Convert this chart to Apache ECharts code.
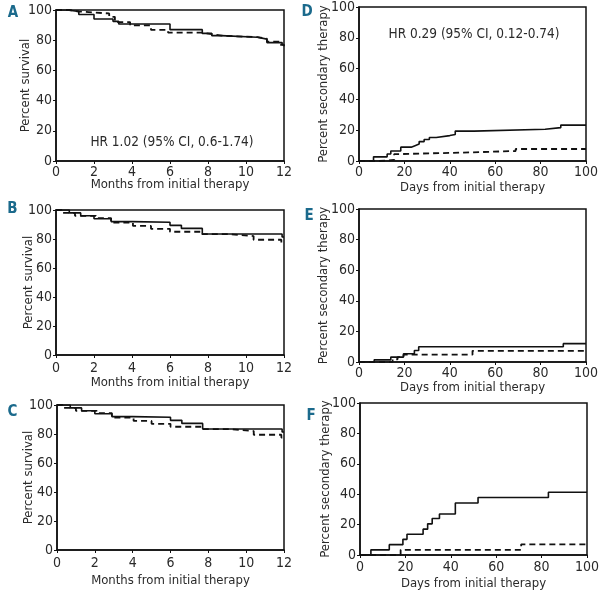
<!DOCTYPE html>
<html><head><meta charset="utf-8">
<script src="https://cdn.jsdelivr.net/npm/echarts@6/dist/echarts.min.js"></script>
<style>html,body{margin:0;padding:0;background:#fff}#c{width:600px;height:596px}</style>
</head><body><div id="c"></div>
<script>
// ---- data ----
const monthTicks = [0, 2, 4, 6, 8, 10, 12];
const dayTicks = [0, 20, 40, 60, 80, 100];
const pctTicks = [0, 20, 40, 60, 80, 100];

const A_solid = [[0,100],[0.6,99],[1.2,97],[2.0,94],[3.0,92.5],[3.3,90.7],[6.0,87],[7.7,84.5],[8.2,83],[8.7,82],[10.6,80.7],[11.1,78.4],[11.9,77],[12,77]];
const A_dashed = [[0,100],[0.7,99],[1.2,97.7],[2.8,95.5],[3.1,92],[3.9,89.8],[5.0,86.8],[5.9,85],[7.7,84],[8.2,83],[8.7,82],[10.6,81],[11.1,79],[11.8,77],[12,76]];

const B_solid = [[0,100],[0.7,98],[1.3,96],[2.0,94],[2.9,92],[4.0,91.5],[6.0,89.4],[6.6,87.3],[7.7,83.5],[11.9,81.4],[12,81.4]];
const B_dashed = [[0,100],[0.3,98],[1.0,96],[2.1,94.4],[2.9,91.3],[4.05,89],[5.0,87],[6.0,85],[7.7,83.3],[9.2,82],[10.4,79.5],[11.86,77.6],[12,77.6]];

const C_solid = [[0,100],[0.7,98],[1.3,96],[2.0,94],[2.9,92],[4.0,91.5],[6.0,89.4],[6.6,87.3],[7.7,83.5],[11.9,81.4],[12,81.4]];
const C_dashed = [[0,100],[0.3,98],[1.0,96],[2.1,94.4],[2.9,91.3],[4.05,89],[5.0,87],[6.0,85],[7.7,83.3],[9.2,82],[10.4,79.5],[11.86,77.6],[12,77.6]];

const D_solid = [[0,0],[6.4,2.7],[12.4,4.5],[14,6.5],[18.4,9],[23,9.8],[24.4,11],[26.5,12.6],[28.7,14],[31,15.3],[34,16.5],[40,17.2],[42.4,19.4],[50.7,20.6],[82,21.7],[88.9,23.3],[100,23.3]];
const D_dashed = [[0,0],[9,0.7],[15.5,4.5],[18,5.6],[49,6.5],[69,7.8],[100,7.8]];

const E_solid = [[0,0],[6.7,1.4],[14,3.2],[19.6,5.4],[24.4,7.5],[26.3,10],[90,12],[100,12]];
const E_dashed = [[0,0],[14.8,1.8],[17,3.2],[19.6,4.8],[50,7.3],[100,7.3]];

const F_solid = [[0,0],[4.8,3.4],[12.9,6.8],[18.9,10.3],[20.7,13.7],[27.8,17],[29.8,20.5],[31.8,24],[35,27],[42,34.2],[52,37.8],[83,41.3],[100,41.3]];
const F_dashed = [[0,0],[17.9,3.4],[71,7],[100,7]];

const letters = ['A','B','C','D','E','F'];
const survivalTitle = 'Percent survival';
const secondaryTitle = 'Percent secondary therapy';
const monthsTitle = 'Months from initial therapy';
const daysTitle = 'Days from initial therapy';
const hrA = 'HR 1.02 (95% CI, 0.6-1.74)';
const hrD = 'HR 0.29 (95% CI, 0.12-0.74)';

// ---- layout ----
const FONT = '"DejaVu Sans Condensed","Liberation Sans Narrow",sans-serif';
const TXT = '#2a2a2a';
const panels = [
  {grid:{left:56,top:10,width:228,height:151}, kind:'m', solid:A_solid, dashed:A_dashed, nameGap:17, yGap:24, lm:4},
  {grid:{left:56,top:210,width:228,height:145}, kind:'m', solid:B_solid, dashed:B_dashed, nameGap:21, yGap:21, lm:6},
  {grid:{left:57,top:405,width:227,height:145}, kind:'m', solid:C_solid, dashed:C_dashed, nameGap:24, yGap:22, lm:6},
  {grid:{left:359,top:7,width:227,height:154}, kind:'d', solid:D_solid, dashed:D_dashed, nameGap:20, yGap:29, lm:4},
  {grid:{left:359,top:209,width:227,height:153}, kind:'d', solid:E_solid, dashed:E_dashed, nameGap:19, yGap:29, lm:4},
  {grid:{left:360,top:403,width:227,height:152}, kind:'d', solid:F_solid, dashed:F_dashed, nameGap:22, yGap:28, lm:5}
];
const letterPos = [[13,13],[12.5,209],[12.5,412],[307,12],[309,216],[311,416]];

const grids=[], xAxes=[], yAxes=[], series=[];
panels.forEach((p,i)=>{
  grids.push(Object.assign({show:true,borderColor:'#111',borderWidth:1.5,backgroundColor:'transparent',
    containLabel:false,outerBoundsMode:'none'},p.grid));
  const isM = p.kind==='m';
  const xt = isM ? monthTicks : dayTicks;
  xAxes.push({gridIndex:i,type:'value',min:xt[0],max:xt[xt.length-1],interval:xt[1]-xt[0],
    name:isM?monthsTitle:daysTitle,nameLocation:'middle',nameGap:p.nameGap,nameMoveOverlap:false,
    nameTextStyle:{fontFamily:FONT,fontSize:13,color:TXT},
    axisLine:{show:true,onZero:false,lineStyle:{color:'#111',width:1.5}},
    axisTick:{show:true,length:3,lineStyle:{color:'#111'}},
    axisLabel:{fontFamily:FONT,fontSize:14,color:TXT,margin:p.lm},
    splitLine:{show:false}});
  yAxes.push({gridIndex:i,type:'value',min:pctTicks[0],max:pctTicks[pctTicks.length-1],interval:pctTicks[1]-pctTicks[0],
    name:isM?survivalTitle:secondaryTitle,nameLocation:'middle',nameGap:p.yGap,nameMoveOverlap:false,
    nameTextStyle:{fontFamily:FONT,fontSize:13,color:TXT},
    axisLine:{show:true,lineStyle:{color:'#111',width:1.5}},
    axisTick:{show:true,length:3,lineStyle:{color:'#111'}},
    axisLabel:{fontFamily:FONT,fontSize:14,color:TXT,margin:4},
    splitLine:{show:false}});
  series.push({type:'line',xAxisIndex:i,yAxisIndex:i,data:p.solid,step:'end',showSymbol:false,
    lineStyle:{color:'#111',width:1.6,type:'solid'},z:3});
  series.push({type:'line',xAxisIndex:i,yAxisIndex:i,data:p.dashed,step:'end',showSymbol:false,
    lineStyle:{color:'#111',width:1.8,type:[6,4]},z:2});
});

const graphics = letters.map((l,i)=>({type:'text',x:letterPos[i][0],y:letterPos[i][1],
  style:{text:l,font:'bold 15px '+FONT,fill:'#1b6a8c',align:'center',verticalAlign:'middle'}}));
graphics.push({type:'text',x:172,y:142,style:{text:hrA,font:'13.5px '+FONT,fill:TXT,align:'center',verticalAlign:'middle'}});
graphics.push({type:'text',x:474,y:34,style:{text:hrD,font:'13.5px '+FONT,fill:TXT,align:'center',verticalAlign:'middle'}});

const chart = echarts.init(document.getElementById('c'),null,{renderer:'canvas'});
chart.setOption({animation:false,backgroundColor:'#fff',grid:grids,xAxis:xAxes,yAxis:yAxes,series:series,graphic:graphics});
</script></body></html>
